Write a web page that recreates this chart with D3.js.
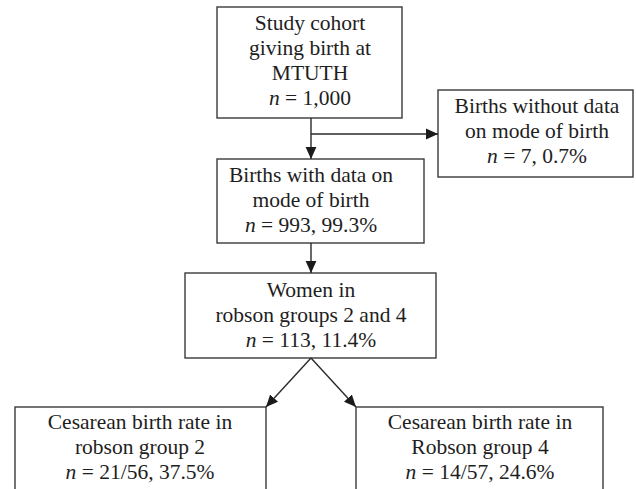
<!DOCTYPE html>
<html>
<head>
<meta charset="utf-8">
<script src="https://cdnjs.cloudflare.com/ajax/libs/d3/7.8.5/d3.min.js"></script>
<style>
  body { margin: 0; background: #fff; }
  svg { display: block; }
</style>
</head>
<body>
<div id="chart"></div>
<script>
// flow chart content
let boxIds = ["cohort", "missing", "withData", "robson", "group2", "group4"];
let boxLabels = [
    ["Study cohort", "giving birth at", "MTUTH"],
    ["Births without data", "on mode of birth"],
    ["Births with data on", "mode of birth"],
    ["Women in", "robson groups 2 and 4"],
    ["Cesarean birth rate in", "robson group 2"],
    ["Cesarean birth rate in", "Robson group 4"]
];
let boxCounts = ["1,000", "7, 0.7%", "993, 99.3%", "113, 11.4%", "21/56, 37.5%", "14/57, 24.6%"];
let links = [
    ["cohort", "withData"],
    ["cohort", "missing"],
    ["withData", "robson"],
    ["robson", "group2"],
    ["robson", "group4"]
];

let width = 636;
let height = 489;
let lineHeight = 25;
let fontFamily = "'Liberation Serif'";

// layout: box rectangles and where the text is centred
let layout = {
    cohort:   {x: 217, y: 7,   w: 185, h: 111, cx: 310, top: 30},
    missing:  {x: 438, y: 90,  w: 195, h: 87,  cx: 537, top: 113},
    withData: {x: 217, y: 159, w: 207, h: 84,  cx: 311, top: 182},
    robson:   {x: 185, y: 273, w: 251, h: 85,  cx: 311, top: 297},
    group2:   {x: 15,  y: 407, w: 251, h: 100, cx: 140, top: 429},
    group4:   {x: 356, y: 407, w: 247, h: 100, cx: 480, top: 429}
};

let svg = d3.select("#chart")
    .append("svg")
    .attr("width", width)
    .attr("height", height);

svg.append("defs").append("marker")
    .attr("id", "arrow")
    .attr("viewBox", "0 0 10 10")
    .attr("refX", 10)
    .attr("refY", 5)
    .attr("markerUnits", "userSpaceOnUse")
    .attr("markerWidth", 12)
    .attr("markerHeight", 12)
    .attr("orient", "auto")
    .append("path")
    .attr("d", "M0,0.5 L10,5 L0,9.5 Z")
    .attr("fill", "#1a1a1a");

let spine = layout.cohort.cx + 1;

function linkPath(l) {
    let s = layout[l[0]], t = layout[l[1]];
    if (l[1] === "missing") {
        let y = 134;
        return "M" + spine + "," + y + " L" + t.x + "," + y;
    }
    if (l[1] === "group2") {
        return "M" + spine + "," + (s.y + s.h) + " L" + (t.x + t.w) + "," + t.y;
    }
    if (l[1] === "group4") {
        return "M" + spine + "," + (s.y + s.h) + " L" + t.x + "," + t.y;
    }
    return "M" + spine + "," + (s.y + s.h) + " L" + spine + "," + t.y;
}

let nodes = boxIds.map(function(id, i) {
    return {id: id, lines: boxLabels[i], count: boxCounts[i]};
});

let g = svg.selectAll(".node")
    .data(nodes)
    .enter().append("g")
    .attr("class", "node");

g.append("rect")
    .attr("x", d => layout[d.id].x)
    .attr("y", d => layout[d.id].y)
    .attr("width", d => layout[d.id].w)
    .attr("height", d => layout[d.id].h)
    .attr("fill", "#fff")
    .attr("stroke", "#3a3a3a")
    .attr("stroke-width", 1.4);

g.each(function(d) {
    let p = layout[d.id];
    let sel = d3.select(this);
    d.lines.forEach(function(line, j) {
        sel.append("text")
            .attr("x", p.cx)
            .attr("y", p.top + j * lineHeight)
            .attr("text-anchor", "middle")
            .style("font-family", fontFamily)
            .style("font-size", "21.5px")
            .style("fill", "#1e1e1e")
            .text(line);
    });
    let t = sel.append("text")
        .attr("x", p.cx)
        .attr("y", p.top + d.lines.length * lineHeight)
        .attr("text-anchor", "middle")
        .style("font-family", fontFamily)
        .style("font-size", "21.5px")
        .style("fill", "#1e1e1e");
    t.append("tspan").style("font-style", "italic").text("n");
    t.append("tspan").text(" = " + d.count);
});

svg.selectAll(".link")
    .data(links)
    .enter().append("path")
    .attr("class", "link")
    .attr("d", linkPath)
    .attr("fill", "none")
    .attr("stroke", "#2a2a2a")
    .attr("stroke-width", 1.4)
    .attr("marker-end", "url(#arrow)");
</script>
</body>
</html>
